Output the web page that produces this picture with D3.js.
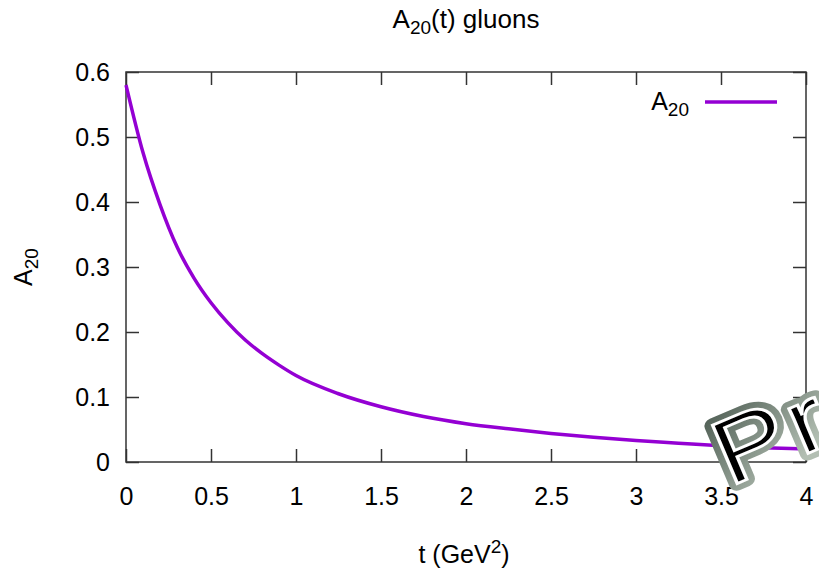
<!DOCTYPE html>
<html>
<head>
<meta charset="utf-8">
<script src="https://cdn.jsdelivr.net/npm/d3@7"></script>
<style>
  body { margin: 0; background: #fff; }
  text { font-family: "Liberation Sans", Arial, sans-serif; fill: #000; }
</style>
</head>
<body>
<div id="vizArea"></div>
<script>
var w = 819
var h = 573

// DATA ********************************
// values
var tValues = [0, 0.1, 0.2, 0.3, 0.4, 0.5, 0.6, 0.7, 0.8, 0.9, 1.0, 1.25, 1.5, 1.75,
               2.0, 2.25, 2.5, 2.75, 3.0, 3.25, 3.5, 3.75, 4.0]
var a20Values = [0.580, 0.476, 0.396, 0.331, 0.283, 0.245, 0.214, 0.188, 0.167, 0.149,
                 0.133, 0.105, 0.085, 0.070, 0.059, 0.051, 0.044, 0.038, 0.033, 0.029,
                 0.025, 0.022, 0.020]
var xTicks = [0, 0.5, 1, 1.5, 2, 2.5, 3, 3.5, 4]
var yTicks = [0, 0.1, 0.2, 0.3, 0.4, 0.5, 0.6]

var margin = {left: 126, right: 13, top: 72, bottom: 111}
var color = "#9400d3"
var frame = "#333"
var fs = 25, fsSub = 19

var svg = d3.select("#vizArea").append("svg")
    .attr("width", w)
    .attr("height", h)

var x = d3.scaleLinear().domain([0, 4]).range([margin.left, w - margin.right])
var y = d3.scaleLinear().domain([0, 0.6]).range([h - margin.bottom, margin.top])

var data = tValues.map(function(t, i){ return {t: t, v: a20Values[i]} })

// AXES (gnuplot style, inward ticks on all four sides) *********
var tick = 13
svg.append("g")
    .attr("transform", "translate(0," + y(0) + ")")
    .call(d3.axisBottom(x).tickValues(xTicks).tickSize(-tick).tickPadding(25)
        .tickFormat(d3.format("")))
    .call(function(g){ g.select(".domain").remove() })
svg.append("g")
    .attr("transform", "translate(0," + y(0.6) + ")")
    .call(d3.axisTop(x).tickValues(xTicks).tickSize(-tick).tickFormat(""))
    .call(function(g){ g.select(".domain").remove() })
svg.append("g")
    .attr("transform", "translate(" + x(0) + ",0)")
    .call(d3.axisLeft(y).tickValues(yTicks).tickSize(-tick).tickPadding(16)
        .tickFormat(d3.format("")))
    .call(function(g){ g.select(".domain").remove() })
svg.append("g")
    .attr("transform", "translate(" + x(4) + ",0)")
    .call(d3.axisRight(y).tickValues(yTicks).tickSize(-tick).tickFormat(""))
    .call(function(g){ g.select(".domain").remove() })

svg.selectAll(".tick line").attr("stroke", frame).attr("stroke-width", 1.5)
svg.selectAll(".tick text").style("font-size", fs + "px").attr("fill", "#000")
    .style("font-family", "'Liberation Sans', Arial, sans-serif")

svg.append("rect")
    .attr("x", x(0)).attr("y", y(0.6))
    .attr("width", x(4) - x(0)).attr("height", y(0) - y(0.6))
    .attr("fill", "none").attr("stroke", frame).attr("stroke-width", 1.5)

// CURVE ********************************
var line = d3.line()
    .x(function(d){ return x(d.t) })
    .y(function(d){ return y(d.v) })
    .curve(d3.curveMonotoneX)

svg.append("path")
    .datum(data)
    .attr("d", line)
    .attr("fill", "none")
    .attr("stroke", color)
    .attr("stroke-width", 3.5)

// LABELS *******************************
function subText(sel, base, sub, rest){
    sel.append("tspan").text(base)
    sel.append("tspan").attr("dy", 6).style("font-size", fsSub + "px").text(sub)
    if (rest) sel.append("tspan").attr("dy", -6).text(rest)
}

var title = svg.append("text").attr("x", 466).attr("y", 28)
    .attr("text-anchor", "middle").style("font-size", "26px")
subText(title, "A", "20", "(t) gluons")

var xl = svg.append("text").attr("x", 464).attr("y", 563)
    .attr("text-anchor", "middle").style("font-size", fs + "px")
xl.append("tspan").text("t (GeV")
xl.append("tspan").attr("dy", -10).style("font-size", fsSub + "px").text("2")
xl.append("tspan").attr("dy", 10).text(")")

var yl = svg.append("text")
    .attr("transform", "translate(32,267) rotate(-90)")
    .attr("text-anchor", "middle").style("font-size", fs + "px")
subText(yl, "A", "20")

// legend
var lg = svg.append("text").attr("x", 689).attr("y", 110)
    .attr("text-anchor", "end").style("font-size", fs + "px")
subText(lg, "A", "20")
svg.append("line")
    .attr("x1", 705).attr("x2", 777).attr("y1", 102).attr("y2", 102)
    .attr("stroke", color).attr("stroke-width", 3.5)

// WATERMARK ****************************
var defs = svg.append("defs")
var grad = defs.append("linearGradient").attr("id", "wm")
    .attr("gradientUnits", "userSpaceOnUse")
    .attr("x1", 0).attr("y1", -75).attr("x2", 55).attr("y2", 10)
grad.append("stop").attr("offset", "0%").attr("stop-color", "#4e5d53")
grad.append("stop").attr("offset", "100%").attr("stop-color", "#b3bfb3")

var wm = svg.append("g").attr("transform", "translate(729,487) rotate(-23) scale(1.2,1)")
wm.append("text").text("Preliminary")
    .style("font-size", "92px")
    .attr("letter-spacing", 4)
    .attr("fill", "url(#wm)")
    .attr("stroke", "url(#wm)")
    .attr("stroke-width", 14)
    .attr("stroke-linejoin", "round")
wm.append("text").text("Preliminary")
    .style("font-size", "92px")
    .attr("letter-spacing", 4)
    .attr("fill", "none")
    .attr("stroke", "#fff")
    .attr("stroke-width", 2.8)
</script>
</body>
</html>
